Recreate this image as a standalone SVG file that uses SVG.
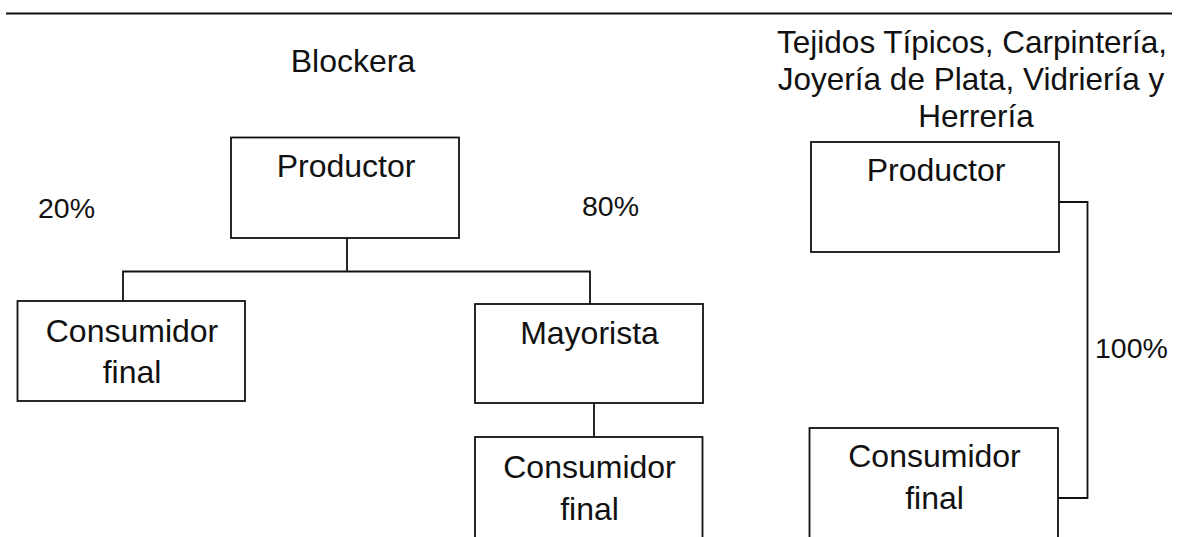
<svg xmlns="http://www.w3.org/2000/svg" width="1179" height="537" viewBox="0 0 1179 537">
<style>
.bx{fill:#fff;stroke:#111;stroke-width:1.8}
.ln{fill:none;stroke:#111;stroke-width:1.8}
.t{font-family:"Liberation Sans",Arial,sans-serif;font-size:32px;fill:#111;text-anchor:middle}
.p{font-family:"Liberation Sans",Arial,sans-serif;font-size:28.5px;fill:#111}
</style>
<rect width="1179" height="537" fill="#fff"/>
<line x1="6" y1="13.5" x2="1172" y2="13.5" stroke="#111" stroke-width="2"/>
<text class="t" x="353" y="72">Blockera</text>
<g class="t" style="font-size:31.5px">
<text x="972" y="53">Tejidos Típicos, Carpintería,</text>
<text x="971" y="90">Joyería de Plata, Vidriería y</text>
<text x="976" y="127">Herrería</text>
</g>
<text class="p" x="38" y="218">20%</text>
<text class="p" x="582" y="216">80%</text>
<text class="p" x="1095" y="358">100%</text>
<g id="connectors">
<path class="ln" d="M347,238 V271.5 M123,301 V271.5 H590 V304"/>
<path class="ln" d="M594,403 V437"/>
<path class="ln" d="M1059,202 H1087.5 V498 H1058"/>
</g>
<g id="productor1">
<rect class="bx" x="231" y="137.5" width="228" height="100.5"/>
<text class="t" x="346" y="177">Productor</text>
</g>
<g id="consumidor1">
<rect class="bx" x="17.5" y="301" width="227.5" height="100"/>
<text class="t" x="132" y="342">Consumidor</text>
<text class="t" x="132" y="383">final</text>
</g>
<g id="mayorista">
<rect class="bx" x="475" y="304" width="228" height="99"/>
<text class="t" x="589.5" y="344">Mayorista</text>
</g>
<g id="consumidor2">
<rect class="bx" x="475" y="437" width="227.5" height="110"/>
<text class="t" x="589.5" y="478">Consumidor</text>
<text class="t" x="589.5" y="520">final</text>
</g>
<g id="productor2">
<rect class="bx" x="811" y="142" width="248" height="110"/>
<text class="t" x="936" y="181">Productor</text>
</g>
<g id="consumidor3">
<rect class="bx" x="809.5" y="428" width="248.5" height="120"/>
<text class="t" x="934.5" y="467">Consumidor</text>
<text class="t" x="934.5" y="509">final</text>
</g>
</svg>
